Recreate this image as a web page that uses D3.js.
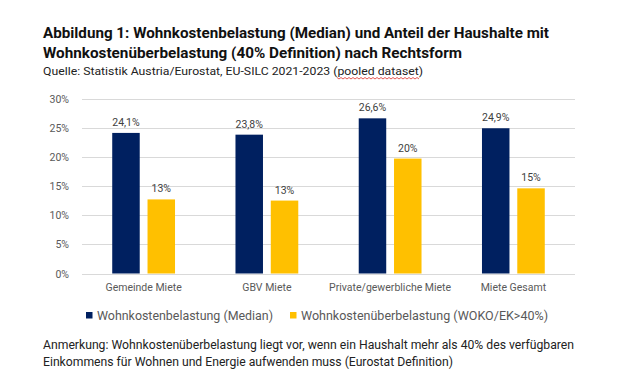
<!DOCTYPE html>
<html>
<head>
<meta charset="utf-8">
<script src="https://cdn.jsdelivr.net/npm/d3@7"></script>
<style>
  body { margin: 0; background: #fff; }
  text { font-family: Roboto, "Liberation Sans", sans-serif; }
</style>
</head>
<body>
<div id="chart"></div>
<script>
// chart data
const categories = ["Gemeinde Miete", "GBV Miete", "Private/gewerbliche Miete", "Miete Gesamt"];
const median = [24.1, 23.8, 26.6, 24.9];
const overburden = [12.7, 12.5, 19.7, 14.6];
const seriesNames = ["Wohnkostenbelastung (Median)", "Wohnkostenüberbelastung (WOKO/EK>40%)"];
const yTicks = [0, 5, 10, 15, 20, 25, 30];
const colors = ["#002060", "#FFC000"];

const W = 636, H = 391;
const svg = d3.select("#chart").append("svg").attr("width", W).attr("height", H);

// titles (text fitted to the reference width)
function fitText(sel, w) { sel.attr("textLength", w).attr("lengthAdjust", "spacingAndGlyphs"); }
svg.append("text").attr("x", 43).attr("y", 37.5).attr("font-size", 14.5).attr("font-weight", 700).attr("fill", "#111")
  .text("Abbildung 1: Wohnkostenbelastung (Median) und Anteil der Haushalte mit").call(fitText, 506);
svg.append("text").attr("x", 43).attr("y", 57.5).attr("font-size", 14.5).attr("font-weight", 700).attr("fill", "#111")
  .text("Wohnkostenüberbelastung (40% Definition) nach Rechtsform").call(fitText, 419);
svg.append("text").attr("x", 43).attr("y", 75).attr("font-size", 11.5).attr("fill", "#222")
  .text("Quelle: Statistik Austria/Eurostat, EU-SILC 2021-2023 (pooled dataset)").call(fitText, 380);
// red squiggle under "pooled dataset"
const squiggle = d3.range(337, 421, 2).map((x, i) => [x, 78 + (i % 2 ? 1 : -0.5)]);
svg.append("path").attr("d", d3.line()(squiggle)).attr("fill", "none").attr("stroke", "#e0302a").attr("stroke-width", 0.8);

// scales
const x0 = d3.scaleBand().domain(categories).range([82, 575]);
const y = d3.scaleLinear().domain([0, 30]).range([273.5, 98.5]);
const barW = 27.5, gap = 7.8;

// gridlines
svg.append("g").selectAll("line").data(yTicks).join("line")
  .attr("x1", 82).attr("x2", 575)
  .attr("y1", d => Math.round(y(d)) + 0.5).attr("y2", d => Math.round(y(d)) + 0.5)
  .attr("stroke", "#d9d9d9").attr("stroke-width", 1);

// y axis labels
svg.append("g").selectAll("text").data(yTicks).join("text")
  .attr("x", 69).attr("y", d => y(d) + 4)
  .attr("text-anchor", "end").attr("font-size", 10.5).attr("fill", "#595959")
  .text(d => d + "%");

// bars
const groups = [median, overburden];
groups.forEach((vals, s) => {
  const offset = s === 0 ? -(barW + gap / 2) : gap / 2;
  svg.append("g").selectAll("rect").data(vals).join("rect")
    .attr("x", (d, i) => x0(categories[i]) + x0.bandwidth() / 2 + offset)
    .attr("y", d => y(d))
    .attr("width", barW)
    .attr("height", d => y(0) - y(d))
    .attr("fill", colors[s]);
  svg.append("g").selectAll("text").data(vals).join("text")
    .attr("x", (d, i) => x0(categories[i]) + x0.bandwidth() / 2 + offset + barW / 2)
    .attr("y", d => y(d) - 7)
    .attr("text-anchor", "middle").attr("font-size", 10.5).attr("fill", "#404040")
    .text(d => s === 0 ? d.toFixed(1).replace(".", ",") + "%" : Math.round(d) + "%");
});

// category labels
svg.append("g").selectAll("text").data(categories).join("text")
  .attr("x", d => x0(d) + x0.bandwidth() / 2).attr("y", 291)
  .attr("text-anchor", "middle").attr("font-size", 10.5).attr("fill", "#595959")
  .text(d => d);

// legend
const legendX = [86, 290];
const legendW = [176, 247];
seriesNames.forEach((name, s) => {
  svg.append("rect").attr("x", legendX[s]).attr("y", 312).attr("width", 6.5).attr("height", 6.5).attr("fill", colors[s]);
  svg.append("text").attr("x", legendX[s] + 11).attr("y", 319.5).attr("font-size", 13).attr("fill", "#595959")
    .text(name).call(fitText, legendW[s]);
});

// footnote
svg.append("text").attr("x", 43).attr("y", 349).attr("font-size", 12).attr("fill", "#222")
  .text("Anmerkung: Wohnkostenüberbelastung liegt vor, wenn ein Haushalt mehr als 40% des verfügbaren").call(fitText, 531);
svg.append("text").attr("x", 43).attr("y", 365.5).attr("font-size", 12).attr("fill", "#222")
  .text("Einkommens für Wohnen und Energie aufwenden muss (Eurostat Definition)").call(fitText, 410);
</script>
</body>
</html>
